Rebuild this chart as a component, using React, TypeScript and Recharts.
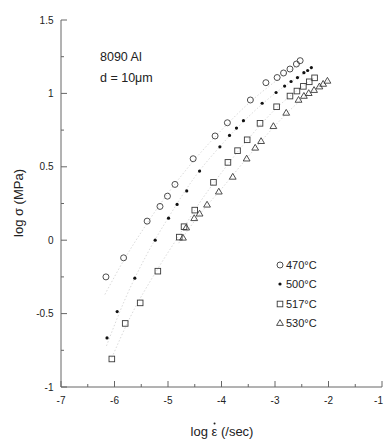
import React from "react";
import { ComposedChart, Scatter, Line, XAxis, YAxis, Legend } from "recharts";

type Pt = { x: number; y: number };

// log strain rate (x) vs log flow stress (y)
const T470: Pt[] = [
  { x: -6.16, y: -0.25 }, { x: -5.83, y: -0.12 }, { x: -5.39, y: 0.13 }, { x: -5.15, y: 0.23 },
  { x: -5.01, y: 0.3 }, { x: -4.87, y: 0.38 }, { x: -4.53, y: 0.555 }, { x: -4.12, y: 0.71 },
  { x: -3.89, y: 0.8 }, { x: -3.46, y: 0.955 }, { x: -3.17, y: 1.073 }, { x: -2.96, y: 1.108 },
  { x: -2.84, y: 1.139 }, { x: -2.72, y: 1.166 }, { x: -2.6, y: 1.2 }, { x: -2.53, y: 1.223 },
];
const T500: Pt[] = [
  { x: -6.14, y: -0.666 }, { x: -5.95, y: -0.486 }, { x: -5.62, y: -0.259 }, { x: -5.24, y: 0.0 },
  { x: -4.99, y: 0.15 }, { x: -4.83, y: 0.244 }, { x: -4.65, y: 0.336 }, { x: -4.41, y: 0.471 },
  { x: -4.03, y: 0.636 }, { x: -3.85, y: 0.714 }, { x: -3.72, y: 0.764 }, { x: -3.59, y: 0.814 },
  { x: -3.24, y: 0.933 }, { x: -2.98, y: 1.006 }, { x: -2.82, y: 1.05 }, { x: -2.7, y: 1.081 },
  { x: -2.58, y: 1.108 }, { x: -2.46, y: 1.141 }, { x: -2.39, y: 1.156 }, { x: -2.32, y: 1.176 },
];
const T517: Pt[] = [
  { x: -6.05, y: -0.809 }, { x: -5.8, y: -0.567 }, { x: -5.52, y: -0.427 }, { x: -5.19, y: -0.211 },
  { x: -4.79, y: 0.021 }, { x: -4.7, y: 0.092 }, { x: -4.5, y: 0.205 }, { x: -4.15, y: 0.394 },
  { x: -3.88, y: 0.53 }, { x: -3.7, y: 0.61 }, { x: -3.52, y: 0.684 }, { x: -3.28, y: 0.796 },
  { x: -2.97, y: 0.909 }, { x: -2.72, y: 0.982 }, { x: -2.59, y: 1.016 }, { x: -2.47, y: 1.048 },
  { x: -2.36, y: 1.079 }, { x: -2.26, y: 1.106 },
];
const T530: Pt[] = [
  { x: -4.72, y: 0.017 }, { x: -4.66, y: 0.086 }, { x: -4.51, y: 0.15 }, { x: -4.41, y: 0.181 },
  { x: -4.27, y: 0.242 }, { x: -4.05, y: 0.331 }, { x: -3.79, y: 0.432 }, { x: -3.53, y: 0.556 },
  { x: -3.37, y: 0.63 }, { x: -3.26, y: 0.675 }, { x: -3.03, y: 0.777 }, { x: -2.79, y: 0.868 },
  { x: -2.56, y: 0.956 }, { x: -2.46, y: 0.983 }, { x: -2.37, y: 1.002 }, { x: -2.27, y: 1.023 },
  { x: -2.17, y: 1.047 }, { x: -2.1, y: 1.065 }, { x: -2.02, y: 1.086 },
];

// faint dotted fit curves
const FIT470: Pt[] = [
  { x: -6.18, y: -0.37 }, { x: -5.8, y: -0.12 }, { x: -5.4, y: 0.11 }, { x: -5.0, y: 0.32 },
  { x: -4.5, y: 0.55 }, { x: -4.0, y: 0.75 }, { x: -3.5, y: 0.93 }, { x: -3.0, y: 1.08 }, { x: -2.5, y: 1.21 },
];
const FIT500: Pt[] = [
  { x: -6.15, y: -0.72 }, { x: -5.8, y: -0.4 }, { x: -5.4, y: -0.1 }, { x: -5.0, y: 0.15 },
  { x: -4.5, y: 0.43 }, { x: -4.0, y: 0.65 }, { x: -3.5, y: 0.84 }, { x: -3.0, y: 1.0 }, { x: -2.3, y: 1.17 },
];
const FIT517: Pt[] = [
  { x: -6.05, y: -0.8 }, { x: -5.7, y: -0.52 }, { x: -5.2, y: -0.2 }, { x: -4.8, y: 0.03 },
  { x: -4.4, y: 0.26 }, { x: -4.0, y: 0.46 }, { x: -3.5, y: 0.69 }, { x: -3.0, y: 0.89 }, { x: -2.25, y: 1.11 },
];
const FIT530: Pt[] = [
  { x: -4.8, y: -0.02 }, { x: -4.4, y: 0.18 }, { x: -4.0, y: 0.35 }, { x: -3.5, y: 0.57 },
  { x: -3.0, y: 0.78 }, { x: -2.5, y: 0.96 }, { x: -2.0, y: 1.09 },
];

const SERIES = [
  { name: "470°C", data: T470, fit: FIT470, kind: "circle" },
  { name: "500°C", data: T500, fit: FIT500, kind: "dot" },
  { name: "517°C", data: T517, fit: FIT517, kind: "square" },
  { name: "530°C", data: T530, fit: FIT530, kind: "triangle" },
];

const X_TICKS = [-7, -6.5, -6, -5.5, -5, -4.5, -4, -3.5, -3, -2.5, -2, -1.5, -1];
const Y_TICKS = [-1, -0.75, -0.5, -0.25, 0, 0.25, 0.5, 0.75, 1, 1.25, 1.5];

const FONT = "'Liberation Sans', Arial, sans-serif";
const INK = "#3a3a3a";
const AXIS = "#666";
const W = 384;

function Mark({ cx, cy, kind }: { cx: number; cy: number; kind: string }) {
  if (cx == null || cy == null) return null;
  if (kind === "circle") return <circle cx={cx} cy={cy} r={3} fill="none" stroke={INK} strokeWidth={0.9} />;
  if (kind === "dot") return <circle cx={cx} cy={cy} r={1.6} fill="#111" />;
  if (kind === "square") return <rect x={cx - 2.8} y={cy - 2.8} width={5.6} height={5.6} fill="none" stroke={INK} strokeWidth={0.9} />;
  return <path d={`M${cx},${cy - 3.4}L${cx + 3.4},${cy + 2.4}L${cx - 3.4},${cy + 2.4}Z`} fill="none" stroke={INK} strokeWidth={0.9} />;
}

function XTick(props: any) {
  const { x, y, payload } = props;
  const v = payload.value;
  const major = Number.isInteger(v);
  // keep the last label inside the picture
  const atEdge = x + 6 > W;
  return (
    <g>
      <line x1={x} y1={y} x2={x} y2={y - (major ? 6 : 3)} stroke={AXIS} />
      {major && (
        <text x={atEdge ? W - 1 : x} y={y + 17} textAnchor={atEdge ? "end" : "middle"}
          fontSize={10} fontFamily={FONT} fill="#222">{v}</text>
      )}
    </g>
  );
}

function YTick(props: any) {
  const { x, y, payload } = props;
  const v = payload.value;
  const major = Math.abs(v * 2 - Math.round(v * 2)) < 1e-6;
  return (
    <g>
      <line x1={x} y1={y} x2={x + (major ? 6 : 3)} y2={y} stroke={AXIS} />
      {major && <text x={x - 7.5} y={y + 3.5} textAnchor="end" fontSize={10} fontFamily={FONT} fill="#222">{v}</text>}
    </g>
  );
}

function LegendBox() {
  return (
    <div style={{ fontFamily: FONT, fontSize: 11, color: "#222" }}>
      {SERIES.map(s => (
        <div key={s.name} style={{ display: "flex", alignItems: "center", height: 19.5 }}>
          <svg width={10} height={10} style={{ marginRight: 1 }}>
            <Mark cx={5} cy={5} kind={s.kind} />
          </svg>
          <span>{s.name}</span>
        </div>
      ))}
    </div>
  );
}

export default function App() {
  return (
    <div style={{ position: "absolute", left: 0, top: 0, width: W, height: 442, background: "#fff" }}>
      <ComposedChart width={W} height={442} margin={{ top: 20, right: 2, bottom: 0, left: 0 }}>
        <XAxis dataKey="x" type="number" domain={[-7, -1]} ticks={X_TICKS} interval={0} height={55}
          allowDataOverflow tickSize={0} tickMargin={0} tickLine={false} axisLine={{ stroke: AXIS }} tick={<XTick />} />
        <YAxis dataKey="y" type="number" domain={[-1, 1.5]} ticks={Y_TICKS} interval={0} width={61}
          allowDataOverflow tickSize={0} tickMargin={0} tickLine={false} axisLine={{ stroke: AXIS }} tick={<YTick />} />
        <XAxis xAxisId="top" orientation="top" type="number" domain={[-7, -1]} height={0}
          tick={false} tickLine={false} axisLine={{ stroke: AXIS }} />
        <YAxis yAxisId="right" orientation="right" type="number" domain={[-1, 1.5]} width={0}
          tick={false} tickLine={false} axisLine={{ stroke: AXIS }} />
        {SERIES.map(s => (
          <Line key={"fit" + s.name} data={s.fit} dataKey="y" type="monotone" stroke="#dadada" strokeWidth={1}
            strokeDasharray="1.5 2" dot={false} activeDot={false} legendType="none" isAnimationActive={false} />
        ))}
        {SERIES.map(s => (
          <Scatter key={s.name} name={s.name} data={s.data} dataKey="y" isAnimationActive={false}
            shape={(p: any) => <Mark cx={p.cx} cy={p.cy} kind={s.kind} />} />
        ))}
        <Legend layout="vertical" align="center" verticalAlign="middle" content={() => <LegendBox />}
          wrapperStyle={{ left: 275, top: 255, width: 60 }} />
      </ComposedChart>

      <div style={{ position: "absolute", left: 100, top: 47, fontFamily: FONT, fontSize: 12.5, color: "#222", lineHeight: "21px" }}>
        <div>8090 Al</div>
        <div>d = 10μm</div>
      </div>
      <div style={{ position: "absolute", left: 18, top: 203, transform: "translate(-50%, -50%) rotate(-90deg)",
        fontFamily: FONT, fontSize: 13, color: "#222", whiteSpace: "nowrap" }}>
        log σ (MPa)
      </div>
      <div style={{ position: "absolute", left: 222, top: 431, transform: "translate(-50%, -50%)",
        fontFamily: FONT, fontSize: 13, color: "#222", whiteSpace: "nowrap" }}>
        log{" "}
        <span style={{ position: "relative", display: "inline-block" }}>
          ε
          <span style={{ position: "absolute", left: "50%", top: -1, width: 2.4, height: 2.4, marginLeft: -1.2,
            borderRadius: "50%", background: "#222" }} />
        </span>{" "}
        (/sec)
      </div>
    </div>
  );
}
